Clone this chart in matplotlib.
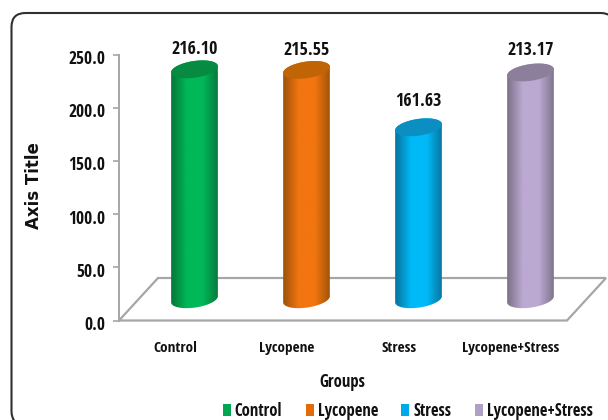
import numpy as np
import matplotlib as mpl
mpl.use("Agg")
import matplotlib.pyplot as plt
from matplotlib.colors import LinearSegmentedColormap
from matplotlib.patches import FancyBboxPatch, Patch, PathPatch, Polygon
from matplotlib.path import Path
from matplotlib.transforms import ScaledTranslation

# chart values
groups = ["Control", "Lycopene", "Stress", "Lycopene+Stress"]
values = [216.10, 215.55, 161.63, 213.17]
y_ticks = [0, 50, 100, 150, 200, 250]

# cylinder colours: edge shade, body, top cap
edge_colors = ["#08743a", "#9c5208", "#08729c", "#7c7088"]
body_colors = ["#00b858", "#f27510", "#00b9f7", "#bca9d2"]
cap_colors = ["#078a42", "#c06405", "#0b8fc2", "#8b7f9c"]
legend_colors = ["#00a650", "#e36c0a", "#00a9e8", "#b0a0c6"]

# extra lift of each value label above its cap, in pixels
label_lift = [20, 20, 26, 22]

plt.rcParams["font.family"] = ["Open Sans Condensed", "Roboto Condensed"]
plt.rcParams["font.weight"] = "bold"

W, H = 608, 420
fig = plt.figure(figsize=(W / 100, H / 100), dpi=100, facecolor="white")

# rounded frame around the whole chart, runs off the right and bottom edges
bg = fig.add_axes([0, 0, 1, 1])
bg.set_xlim(0, W)
bg.set_ylim(H, 0)
bg.axis("off")
bg.add_patch(FancyBboxPatch((25.5, 27), 575, 384, boxstyle="round,pad=14,rounding_size=14",
                            fc="white", ec="#303030", lw=1.5))

# plot area, one slot per group
ax = fig.add_axes([119 / W, (H - 320.5) / H, 448 / W, 266 / H])
ax.set_xlim(-0.5, 3.5)
ax.set_ylim(0, 250)
ax.patch.set_alpha(0)
px_x = 448 / 4
px_y = 266 / 250

# floor of the 3d box, cylinders stand at half its depth
floor_dx = 39 / px_x
floor_dy = 42.5 / px_y
floor = Polygon([(-0.5, 0), (3.5, 0), (3.5 + floor_dx, floor_dy), (-0.5 + floor_dx, floor_dy)],
                closed=True, fc="white", ec="#a6a6a6", lw=1.6, clip_on=False, zorder=1)
ax.add_patch(floor)


def ellipse(cx, cy, t):
    # tilted ellipse in data units
    a, b, tilt = 23.6, 8.3, np.radians(8.5)
    u = a * np.cos(t) * np.cos(tilt) - b * np.sin(t) * np.sin(tilt)
    v = a * np.cos(t) * np.sin(tilt) + b * np.sin(t) * np.cos(tilt)
    return cx + u / px_x, cy + v / px_y


t_all = np.linspace(0, 2 * np.pi, 120)
t_low = np.linspace(np.pi, 2 * np.pi, 60)
t_high = np.linspace(0, np.pi, 60)

for i, val in enumerate(values):
    cx = i + floor_dx / 2
    base = floor_dy / 2
    top = base + val

    # body outline: lower half of base ellipse, then back along upper half of the top one
    xb, yb = ellipse(cx, base, t_low)
    xt, yt = ellipse(cx, top, t_high)
    outline = np.column_stack([np.r_[xb, xt], np.r_[yb, yt]])
    clip = PathPatch(Path(np.vstack([outline, outline[0]]), closed=True), transform=ax.transData)

    cmap = LinearSegmentedColormap.from_list(
        "shade", [edge_colors[i], body_colors[i], body_colors[i], edge_colors[i]])
    half = 23.8 / px_x
    im = ax.imshow(np.linspace(0, 1, 256)[None, :], cmap=cmap, aspect="auto",
                   extent=[cx - half, cx + half, base - 15, top + 15], zorder=2,
                   interpolation="bilinear")
    im.set_clip_path(clip)

    xc, yc = ellipse(cx, top, t_all)
    ax.fill(xc, yc, color=cap_colors[i], lw=0, zorder=3)

    ax.annotate(f"{val:.2f}", (cx, top), xytext=(0, label_lift[i] * 0.72), textcoords="offset points",
                ha="center", va="center", fontsize=13, color="#111111", zorder=4)

ax.set_xlim(-0.5, 3.5)
ax.set_ylim(0, 250)

# axes styling
for side in ["top", "right", "bottom"]:
    ax.spines[side].set_visible(False)
ax.spines["left"].set_color("#a6a6a6")
ax.spines["left"].set_linewidth(1.4)
ax.set_yticks(y_ticks)
ax.set_yticklabels([f"{v:.1f}" for v in y_ticks], fontsize=12.5, color="#111111")
ax.tick_params(axis="y", length=4, width=1.2, color="#a6a6a6", pad=6)
# value labels sit a little below their ticks
shift = ScaledTranslation(0, -2.5 / 100, fig.dpi_scale_trans)
for lab in ax.get_yticklabels():
    lab.set_transform(lab.get_transform() + shift)
ax.set_xticks(range(len(groups)))
ax.set_xticklabels(groups, fontsize=11, color="#111111")
ax.tick_params(axis="x", length=0, pad=15)

fig.text(342 / W, 1 - 382 / H, "Groups", ha="center", va="center", fontsize=12, color="#111111")
fig.text(34 / W, 1 - 186 / H, "Axis Title", rotation=90, ha="center", va="center",
         fontsize=12, color="#111111", family=["DejaVu Sans"])

handles = [Patch(fc=c, ec="none", label=g) for c, g in zip(legend_colors, groups)]
fig.legend(handles=handles, ncol=4, frameon=False, loc="center right",
           bbox_to_anchor=(593 / W, 1 - 411 / H), fontsize=12, handlelength=0.48, handleheight=0.72,
           handletextpad=0.25, columnspacing=1.4, borderpad=0, borderaxespad=0,
           labelcolor="#111111")

fig.savefig("out.png", dpi=100)
